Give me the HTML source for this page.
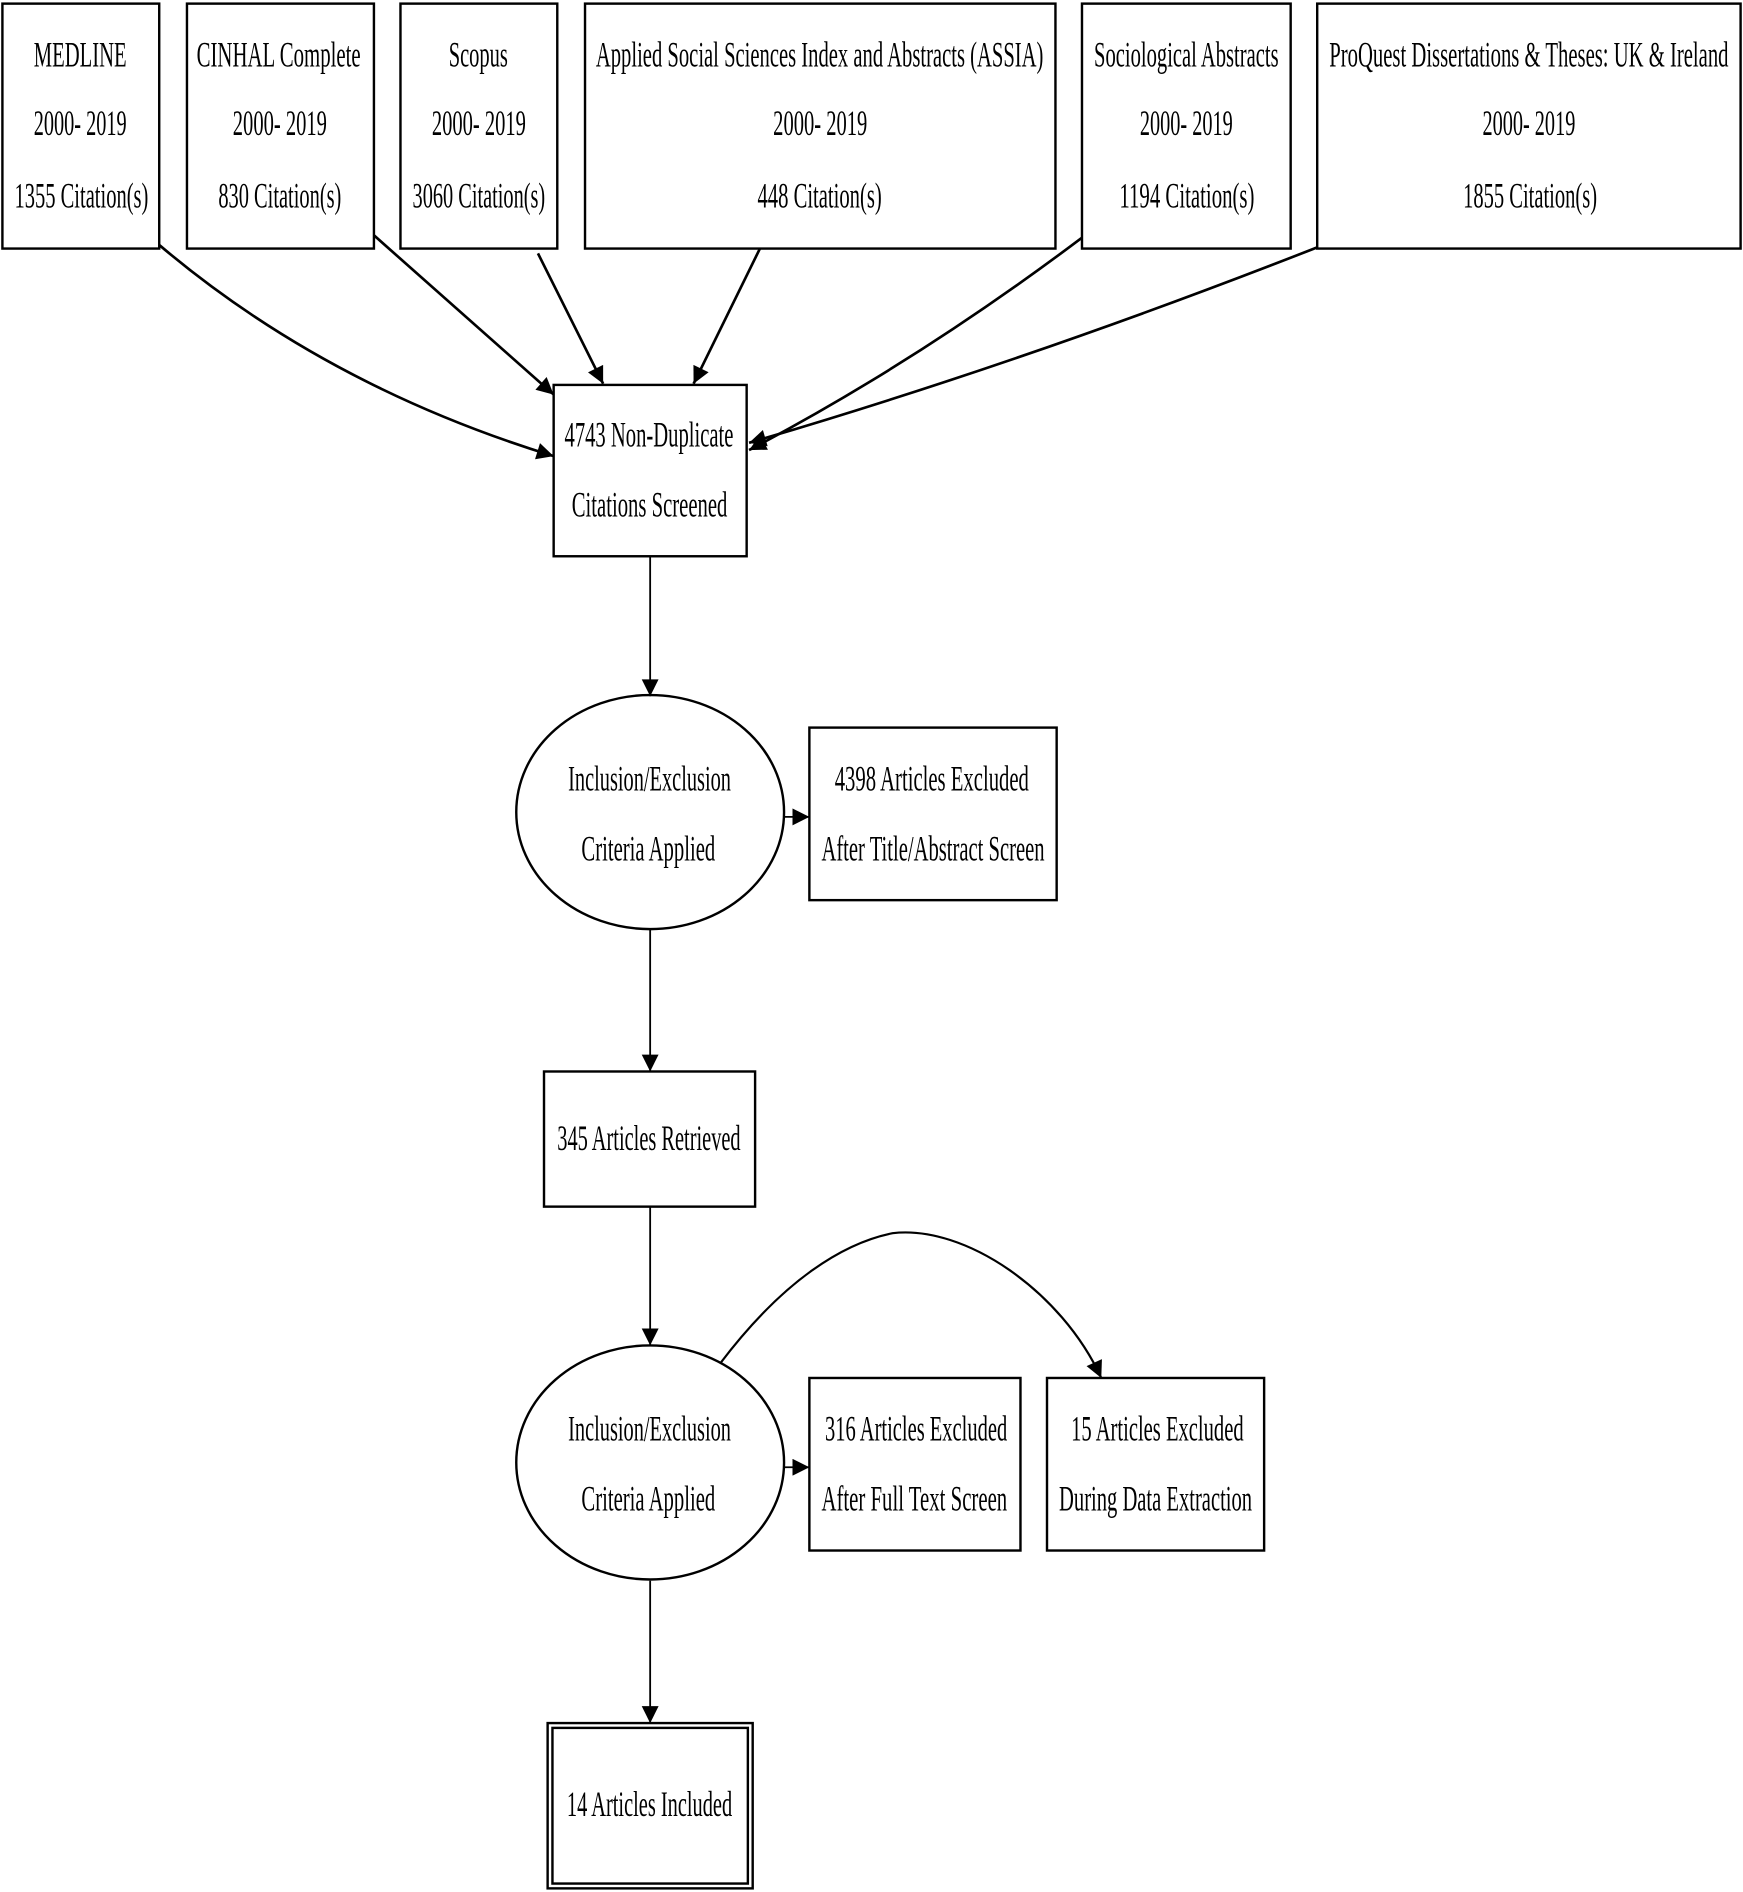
<!DOCTYPE html>
<html><head><meta charset="utf-8"><style>html,body{margin:0;padding:0;background:#fff}svg{display:block}</style></head>
<body>
<svg width="1743" height="1892" viewBox="0 0 1445 1568" preserveAspectRatio="none" xmlns="http://www.w3.org/2000/svg">
<defs>
<marker id="a" viewBox="0 0 10 10" refX="10" refY="5" markerWidth="20" markerHeight="14" markerUnits="userSpaceOnUse" orient="auto"><path d="M0,0 L10,5 L0,10 z" fill="#000"/></marker>
</defs>
<g fill="#fff" stroke="#000" stroke-width="2">
<rect x="2" y="3" width="130" height="203"/>
<rect x="155" y="3" width="155" height="203"/>
<rect x="332" y="3" width="130" height="203"/>
<rect x="485" y="3" width="390" height="203"/>
<rect x="897" y="3" width="173" height="203"/>
<rect x="1092" y="3" width="351" height="203"/>
<rect x="459" y="319" width="160" height="142"/>
<ellipse cx="539" cy="673" rx="111" ry="97"/>
<rect x="671" y="603" width="205" height="143"/>
<rect x="451" y="888" width="175" height="112"/>
<ellipse cx="539" cy="1212" rx="111" ry="97"/>
<rect x="671" y="1142" width="175" height="143"/>
<rect x="868" y="1142" width="180" height="143"/>
<rect x="454" y="1428" width="170" height="137"/>
<rect x="458" y="1432" width="162" height="129"/>
</g>
<g fill="none" stroke="#000" stroke-width="2.2" marker-end="url(#a)">
<path d="M132,203 Q270,320 459,378"/>
<path d="M310,195 L459,327"/>
<path d="M446,210 L500,318"/>
<path d="M630,206 L575,318"/>
<path d="M897,197 Q760,300 621,373"/>
<path d="M1092,205 Q850,300 621,367"/>
<path d="M539,461 L539,577" stroke-width="1.5"/>
<path d="M650,677 L671,677" stroke-width="1.5"/>
<path d="M539,770 L539,888" stroke-width="1.5"/>
<path d="M539,1000 L539,1115" stroke-width="1.5"/>
<path d="M650,1216 L671,1216" stroke-width="1.5"/>
<path d="M597,1130 C650,1060 700,1030 740,1022 C800,1015 880,1070 913,1142" stroke-width="1.8"/>
<path d="M539,1310 L539,1428" stroke-width="1.5"/>
</g>
<g font-family="Liberation Serif, serif" font-size="30" fill="#000" lengthAdjust="spacingAndGlyphs">
<text x="28" y="55" textLength="77" lengthAdjust="spacingAndGlyphs">MEDLINE</text>
<text x="28" y="112" textLength="77" lengthAdjust="spacingAndGlyphs">2000- 2019</text>
<text x="12" y="172" textLength="111" lengthAdjust="spacingAndGlyphs">1355 Citation(s)</text>
<text x="163" y="55" textLength="136" lengthAdjust="spacingAndGlyphs">CINHAL Complete</text>
<text x="193" y="112" textLength="78" lengthAdjust="spacingAndGlyphs">2000- 2019</text>
<text x="181" y="172" textLength="102" lengthAdjust="spacingAndGlyphs">830 Citation(s)</text>
<text x="372" y="55" textLength="49" lengthAdjust="spacingAndGlyphs">Scopus</text>
<text x="358" y="112" textLength="78" lengthAdjust="spacingAndGlyphs">2000- 2019</text>
<text x="342" y="172" textLength="110" lengthAdjust="spacingAndGlyphs">3060 Citation(s)</text>
<text x="494" y="55" textLength="371" lengthAdjust="spacingAndGlyphs">Applied Social Sciences Index and Abstracts (ASSIA)</text>
<text x="641" y="112" textLength="78" lengthAdjust="spacingAndGlyphs">2000- 2019</text>
<text x="628" y="172" textLength="103" lengthAdjust="spacingAndGlyphs">448 Citation(s)</text>
<text x="907" y="55" textLength="153" lengthAdjust="spacingAndGlyphs">Sociological Abstracts</text>
<text x="945" y="112" textLength="77" lengthAdjust="spacingAndGlyphs">2000- 2019</text>
<text x="928" y="172" textLength="112" lengthAdjust="spacingAndGlyphs">1194 Citation(s)</text>
<text x="1102" y="55" textLength="331" lengthAdjust="spacingAndGlyphs">ProQuest Dissertations &amp; Theses: UK &amp; Ireland</text>
<text x="1229" y="112" textLength="77" lengthAdjust="spacingAndGlyphs">2000- 2019</text>
<text x="1213" y="172" textLength="111" lengthAdjust="spacingAndGlyphs">1855 Citation(s)</text>
<text x="468" y="370" textLength="140" lengthAdjust="spacingAndGlyphs">4743 Non-Duplicate</text>
<text x="474" y="428" textLength="129" lengthAdjust="spacingAndGlyphs">Citations Screened</text>
<text x="471" y="655" textLength="135" lengthAdjust="spacingAndGlyphs">Inclusion/Exclusion</text>
<text x="482" y="713" textLength="111" lengthAdjust="spacingAndGlyphs">Criteria Applied</text>
<text x="692" y="655" textLength="161" lengthAdjust="spacingAndGlyphs">4398 Articles Excluded</text>
<text x="681" y="713" textLength="185" lengthAdjust="spacingAndGlyphs">After Title/Abstract Screen</text>
<text x="462" y="953" textLength="152" lengthAdjust="spacingAndGlyphs">345 Articles Retrieved</text>
<text x="471" y="1194" textLength="135" lengthAdjust="spacingAndGlyphs">Inclusion/Exclusion</text>
<text x="482" y="1252" textLength="111" lengthAdjust="spacingAndGlyphs">Criteria Applied</text>
<text x="684" y="1194" textLength="151" lengthAdjust="spacingAndGlyphs">316 Articles Excluded</text>
<text x="681" y="1252" textLength="154" lengthAdjust="spacingAndGlyphs">After Full Text Screen</text>
<text x="888" y="1194" textLength="143" lengthAdjust="spacingAndGlyphs">15 Articles Excluded</text>
<text x="878" y="1252" textLength="160" lengthAdjust="spacingAndGlyphs">During Data Extraction</text>
<text x="470" y="1505" textLength="137" lengthAdjust="spacingAndGlyphs">14 Articles Included</text>
</g>
</svg>
</body></html>
